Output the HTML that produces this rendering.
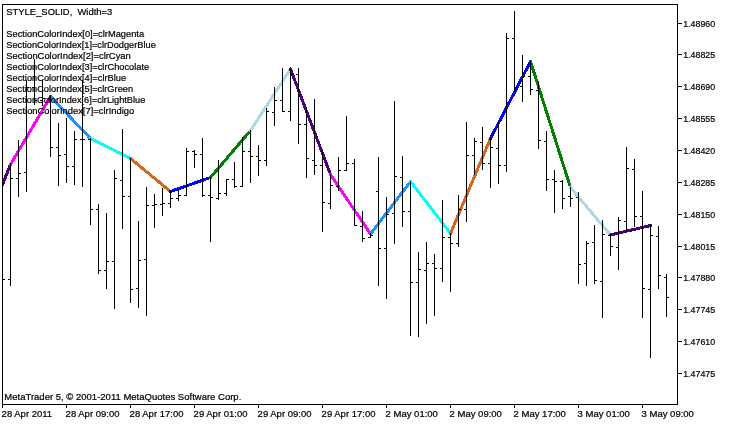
<!DOCTYPE html>
<html><head><meta charset="utf-8"><title>chart</title>
<style>
html,body{margin:0;padding:0;background:#fff;}
body{width:730px;height:425px;overflow:hidden;}
svg{display:block;}
text{font-family:"Liberation Sans",sans-serif;font-size:9.5px;fill:#000;stroke:#000;stroke-width:0.22px;}
</style></head><body>
<svg width="730" height="425" viewBox="0 0 730 425">
<rect x="0" y="0" width="730" height="425" fill="#fff"/>
<defs><clipPath id="cp"><rect x="3" y="5" width="674" height="399"/></clipPath><filter id="na" x="0" y="0" width="730" height="425" filterUnits="userSpaceOnUse" color-interpolation-filters="sRGB"><feOffset dx="0" dy="0"/></filter></defs>
<g fill="none" stroke-width="3" stroke-linecap="round" shape-rendering="crispEdges" clip-path="url(#cp)">
<line x1="-29.5" y1="264.5" x2="10.5" y2="164.5" stroke="#4B0082"/>
<line x1="10.5" y1="164.5" x2="50.5" y2="96.5" stroke="#FF00FF"/>
<line x1="50.5" y1="96.5" x2="90.5" y2="138.5" stroke="#1E90FF"/>
<line x1="90.5" y1="138.5" x2="130.5" y2="158.5" stroke="#00FFFF"/>
<line x1="130.5" y1="158.5" x2="170.5" y2="191.5" stroke="#D2691E"/>
<line x1="170.5" y1="191.5" x2="210.5" y2="177.5" stroke="#0000FF"/>
<line x1="210.5" y1="177.5" x2="250.5" y2="130.5" stroke="#008000"/>
<line x1="250.5" y1="130.5" x2="290.5" y2="69.0" stroke="#ADD8E6"/>
<line x1="290.5" y1="69.0" x2="330.5" y2="174.5" stroke="#4B0082"/>
<line x1="330.5" y1="174.5" x2="370.5" y2="234.0" stroke="#FF00FF"/>
<line x1="370.5" y1="234.0" x2="410.5" y2="181.5" stroke="#1E90FF"/>
<line x1="410.5" y1="181.5" x2="450.5" y2="233.5" stroke="#00FFFF"/>
<line x1="450.5" y1="233.5" x2="490.5" y2="138.5" stroke="#D2691E"/>
<line x1="490.5" y1="138.5" x2="530.5" y2="61.5" stroke="#0000FF"/>
<line x1="530.5" y1="61.5" x2="570.5" y2="187.5" stroke="#008000"/>
<line x1="570.5" y1="187.5" x2="610.5" y2="235.0" stroke="#ADD8E6"/>
<line x1="610.5" y1="235.0" x2="650.5" y2="225.5" stroke="#4B0082"/>
</g>
<g fill="#000" shape-rendering="crispEdges">
<rect x="3" y="279" width="2" height="1"/>
<rect x="10" y="163" width="1" height="123"/><rect x="8" y="279" width="2" height="1"/><rect x="11" y="178" width="2" height="1"/>
<rect x="18" y="140" width="1" height="57"/><rect x="16" y="178" width="2" height="1"/><rect x="19" y="173" width="2" height="1"/>
<rect x="26" y="80" width="1" height="112"/><rect x="24" y="172" width="2" height="1"/><rect x="27" y="87" width="2" height="1"/>
<rect x="34" y="59" width="1" height="46"/><rect x="32" y="87" width="2" height="1"/><rect x="35" y="100" width="2" height="1"/>
<rect x="42" y="80" width="1" height="26"/><rect x="40" y="100" width="2" height="1"/><rect x="43" y="98" width="2" height="1"/>
<rect x="50" y="95" width="1" height="62"/><rect x="48" y="98" width="2" height="1"/><rect x="51" y="147" width="2" height="1"/>
<rect x="58" y="123" width="1" height="63"/><rect x="56" y="147" width="2" height="1"/><rect x="59" y="155" width="2" height="1"/>
<rect x="66" y="118" width="1" height="65"/><rect x="64" y="154" width="2" height="1"/><rect x="67" y="166" width="2" height="1"/>
<rect x="74" y="131" width="1" height="54"/><rect x="72" y="166" width="2" height="1"/><rect x="75" y="139" width="2" height="1"/>
<rect x="82" y="80" width="1" height="107"/><rect x="80" y="139" width="2" height="1"/><rect x="83" y="139" width="2" height="1"/>
<rect x="90" y="138" width="1" height="87"/><rect x="88" y="139" width="2" height="1"/><rect x="91" y="209" width="2" height="1"/>
<rect x="98" y="204" width="1" height="70"/><rect x="96" y="209" width="2" height="1"/><rect x="99" y="270" width="2" height="1"/>
<rect x="106" y="213" width="1" height="76"/><rect x="104" y="270" width="2" height="1"/><rect x="107" y="261" width="2" height="1"/>
<rect x="114" y="170" width="1" height="139"/><rect x="112" y="261" width="2" height="1"/><rect x="115" y="178" width="2" height="1"/>
<rect x="122" y="129" width="1" height="100"/><rect x="120" y="180" width="2" height="1"/><rect x="123" y="196" width="2" height="1"/>
<rect x="130" y="158" width="1" height="145"/><rect x="128" y="196" width="2" height="1"/><rect x="131" y="289" width="2" height="1"/>
<rect x="138" y="221" width="1" height="87"/><rect x="136" y="288" width="2" height="1"/><rect x="139" y="260" width="2" height="1"/>
<rect x="146" y="187" width="1" height="129"/><rect x="144" y="259" width="2" height="1"/><rect x="147" y="205" width="2" height="1"/>
<rect x="154" y="194" width="1" height="34"/><rect x="152" y="205" width="2" height="1"/><rect x="155" y="204" width="2" height="1"/>
<rect x="162" y="188" width="1" height="28"/><rect x="160" y="204" width="2" height="1"/><rect x="163" y="203" width="2" height="1"/>
<rect x="170" y="191" width="1" height="17"/><rect x="168" y="203" width="2" height="1"/><rect x="171" y="198" width="2" height="1"/>
<rect x="178" y="189" width="1" height="12"/><rect x="176" y="198" width="2" height="1"/><rect x="179" y="195" width="2" height="1"/>
<rect x="186" y="148" width="1" height="48"/><rect x="184" y="195" width="2" height="1"/><rect x="187" y="151" width="2" height="1"/>
<rect x="194" y="150" width="1" height="18"/><rect x="192" y="151" width="2" height="1"/><rect x="195" y="154" width="2" height="1"/>
<rect x="202" y="138" width="1" height="59"/><rect x="200" y="154" width="2" height="1"/><rect x="203" y="195" width="2" height="1"/>
<rect x="210" y="177" width="1" height="65"/><rect x="208" y="195" width="2" height="1"/><rect x="211" y="197" width="2" height="1"/>
<rect x="218" y="160" width="1" height="40"/><rect x="216" y="198" width="2" height="1"/><rect x="219" y="193" width="2" height="1"/>
<rect x="226" y="179" width="1" height="17"/><rect x="224" y="193" width="2" height="1"/><rect x="227" y="179" width="2" height="1"/>
<rect x="234" y="162" width="1" height="26"/><rect x="232" y="179" width="2" height="1"/><rect x="235" y="186" width="2" height="1"/>
<rect x="242" y="137" width="1" height="50"/><rect x="240" y="186" width="2" height="1"/><rect x="243" y="151" width="2" height="1"/>
<rect x="250" y="130" width="1" height="53"/><rect x="248" y="151" width="2" height="1"/><rect x="251" y="156" width="2" height="1"/>
<rect x="258" y="145" width="1" height="31"/><rect x="256" y="156" width="2" height="1"/><rect x="259" y="160" width="2" height="1"/>
<rect x="266" y="108" width="1" height="58"/><rect x="264" y="160" width="2" height="1"/><rect x="267" y="111" width="2" height="1"/>
<rect x="274" y="87" width="1" height="39"/><rect x="272" y="112" width="2" height="1"/><rect x="275" y="100" width="2" height="1"/>
<rect x="282" y="68" width="1" height="44"/><rect x="280" y="100" width="2" height="1"/><rect x="283" y="111" width="2" height="1"/>
<rect x="290" y="69" width="1" height="52"/><rect x="288" y="111" width="2" height="1"/><rect x="291" y="74" width="2" height="1"/>
<rect x="298" y="68" width="1" height="76"/><rect x="296" y="74" width="2" height="1"/><rect x="299" y="124" width="2" height="1"/>
<rect x="306" y="107" width="1" height="71"/><rect x="304" y="124" width="2" height="1"/><rect x="307" y="158" width="2" height="1"/>
<rect x="314" y="99" width="1" height="76"/><rect x="312" y="160" width="2" height="1"/><rect x="315" y="165" width="2" height="1"/>
<rect x="322" y="150" width="1" height="82"/><rect x="320" y="165" width="2" height="1"/><rect x="323" y="202" width="2" height="1"/>
<rect x="330" y="174" width="1" height="35"/><rect x="328" y="203" width="2" height="1"/><rect x="331" y="185" width="2" height="1"/>
<rect x="338" y="157" width="1" height="34"/><rect x="336" y="186" width="2" height="1"/><rect x="339" y="170" width="2" height="1"/>
<rect x="346" y="116" width="1" height="55"/><rect x="344" y="170" width="2" height="1"/><rect x="347" y="163" width="2" height="1"/>
<rect x="354" y="159" width="1" height="67"/><rect x="352" y="163" width="2" height="1"/><rect x="355" y="225" width="2" height="1"/>
<rect x="362" y="211" width="1" height="31"/><rect x="360" y="226" width="2" height="1"/><rect x="363" y="238" width="2" height="1"/>
<rect x="370" y="233" width="1" height="5"/><rect x="368" y="237" width="2" height="1"/><rect x="371" y="235" width="2" height="1"/>
<rect x="378" y="157" width="1" height="129"/><rect x="376" y="191" width="2" height="1"/><rect x="379" y="248" width="2" height="1"/>
<rect x="386" y="197" width="1" height="102"/><rect x="384" y="248" width="2" height="1"/><rect x="387" y="214" width="2" height="1"/>
<rect x="394" y="101" width="1" height="143"/><rect x="392" y="213" width="2" height="1"/><rect x="395" y="176" width="2" height="1"/>
<rect x="402" y="156" width="1" height="71"/><rect x="400" y="177" width="2" height="1"/><rect x="403" y="211" width="2" height="1"/>
<rect x="410" y="181" width="1" height="155"/><rect x="408" y="211" width="2" height="1"/><rect x="411" y="282" width="2" height="1"/>
<rect x="418" y="252" width="1" height="85"/><rect x="416" y="282" width="2" height="1"/><rect x="419" y="269" width="2" height="1"/>
<rect x="426" y="242" width="1" height="82"/><rect x="424" y="270" width="2" height="1"/><rect x="427" y="263" width="2" height="1"/>
<rect x="434" y="254" width="1" height="62"/><rect x="432" y="263" width="2" height="1"/><rect x="435" y="268" width="2" height="1"/>
<rect x="442" y="200" width="1" height="82"/><rect x="440" y="268" width="2" height="1"/><rect x="443" y="237" width="2" height="1"/>
<rect x="450" y="233" width="1" height="59"/><rect x="448" y="237" width="2" height="1"/><rect x="451" y="243" width="2" height="1"/>
<rect x="458" y="195" width="1" height="52"/><rect x="456" y="243" width="2" height="1"/><rect x="459" y="209" width="2" height="1"/>
<rect x="466" y="122" width="1" height="100"/><rect x="464" y="209" width="2" height="1"/><rect x="467" y="155" width="2" height="1"/>
<rect x="474" y="138" width="1" height="37"/><rect x="472" y="155" width="2" height="1"/><rect x="475" y="141" width="2" height="1"/>
<rect x="482" y="127" width="1" height="43"/><rect x="480" y="142" width="2" height="1"/><rect x="483" y="163" width="2" height="1"/>
<rect x="490" y="138" width="1" height="50"/><rect x="488" y="163" width="2" height="1"/><rect x="491" y="147" width="2" height="1"/>
<rect x="498" y="121" width="1" height="63"/><rect x="496" y="148" width="2" height="1"/><rect x="499" y="165" width="2" height="1"/>
<rect x="506" y="33" width="1" height="139"/><rect x="504" y="165" width="2" height="1"/><rect x="507" y="38" width="2" height="1"/>
<rect x="514" y="11" width="1" height="80"/><rect x="512" y="38" width="2" height="1"/><rect x="515" y="87" width="2" height="1"/>
<rect x="522" y="55" width="1" height="47"/><rect x="520" y="86" width="2" height="1"/><rect x="523" y="76" width="2" height="1"/>
<rect x="530" y="61" width="1" height="34"/><rect x="528" y="76" width="2" height="1"/><rect x="531" y="89" width="2" height="1"/>
<rect x="538" y="81" width="1" height="68"/><rect x="536" y="90" width="2" height="1"/><rect x="539" y="140" width="2" height="1"/>
<rect x="546" y="131" width="1" height="60"/><rect x="544" y="141" width="2" height="1"/><rect x="547" y="179" width="2" height="1"/>
<rect x="554" y="170" width="1" height="43"/><rect x="552" y="179" width="2" height="1"/><rect x="555" y="181" width="2" height="1"/>
<rect x="562" y="180" width="1" height="29"/><rect x="560" y="181" width="2" height="1"/><rect x="563" y="198" width="2" height="1"/>
<rect x="570" y="187" width="1" height="20"/><rect x="568" y="196" width="2" height="1"/><rect x="571" y="198" width="2" height="1"/>
<rect x="578" y="192" width="1" height="92"/><rect x="576" y="197" width="2" height="1"/><rect x="579" y="264" width="2" height="1"/>
<rect x="586" y="241" width="1" height="45"/><rect x="584" y="263" width="2" height="1"/><rect x="587" y="243" width="2" height="1"/>
<rect x="594" y="225" width="1" height="59"/><rect x="592" y="242" width="2" height="1"/><rect x="595" y="280" width="2" height="1"/>
<rect x="602" y="220" width="1" height="98"/><rect x="600" y="281" width="2" height="1"/><rect x="603" y="234" width="2" height="1"/>
<rect x="610" y="234" width="1" height="22"/><rect x="608" y="235" width="2" height="1"/><rect x="611" y="246" width="2" height="1"/>
<rect x="618" y="217" width="1" height="53"/><rect x="616" y="247" width="2" height="1"/><rect x="619" y="220" width="2" height="1"/>
<rect x="626" y="147" width="1" height="85"/><rect x="624" y="221" width="2" height="1"/><rect x="627" y="168" width="2" height="1"/>
<rect x="634" y="159" width="1" height="68"/><rect x="632" y="169" width="2" height="1"/><rect x="635" y="216" width="2" height="1"/>
<rect x="642" y="191" width="1" height="127"/><rect x="640" y="216" width="2" height="1"/><rect x="643" y="288" width="2" height="1"/>
<rect x="650" y="224" width="1" height="134"/><rect x="648" y="289" width="2" height="1"/><rect x="651" y="235" width="2" height="1"/>
<rect x="658" y="226" width="1" height="63"/><rect x="656" y="236" width="2" height="1"/><rect x="659" y="275" width="2" height="1"/>
<rect x="666" y="274" width="1" height="43"/><rect x="664" y="277" width="2" height="1"/><rect x="667" y="297" width="2" height="1"/>
</g>
<g fill="#000" shape-rendering="crispEdges">
<rect x="2" y="4" width="676" height="1"/>
<rect x="2" y="4" width="1" height="401"/>
<rect x="677" y="4" width="1" height="401"/>
<rect x="2" y="404" width="676" height="1"/>
<rect x="678" y="23" width="4" height="1"/><rect x="678" y="54" width="4" height="1"/><rect x="678" y="86" width="4" height="1"/><rect x="678" y="118" width="4" height="1"/><rect x="678" y="150" width="4" height="1"/><rect x="678" y="182" width="4" height="1"/><rect x="678" y="214" width="4" height="1"/><rect x="678" y="246" width="4" height="1"/><rect x="678" y="277" width="4" height="1"/><rect x="678" y="309" width="4" height="1"/><rect x="678" y="341" width="4" height="1"/><rect x="678" y="373" width="4" height="1"/>
<rect x="2" y="405" width="1" height="3"/><rect x="66" y="405" width="1" height="3"/><rect x="130" y="405" width="1" height="3"/><rect x="194" y="405" width="1" height="3"/><rect x="258" y="405" width="1" height="3"/><rect x="322" y="405" width="1" height="3"/><rect x="386" y="405" width="1" height="3"/><rect x="450" y="405" width="1" height="3"/><rect x="514" y="405" width="1" height="3"/><rect x="578" y="405" width="1" height="3"/><rect x="642" y="405" width="1" height="3"/>
</g>
<g class="t" filter="url(#na)">
<text x="683.2" y="27" textLength="32" lengthAdjust="spacingAndGlyphs">1.48960</text>
<text x="683.2" y="58" textLength="32" lengthAdjust="spacingAndGlyphs">1.48825</text>
<text x="683.2" y="90" textLength="32" lengthAdjust="spacingAndGlyphs">1.48690</text>
<text x="683.2" y="122" textLength="32" lengthAdjust="spacingAndGlyphs">1.48555</text>
<text x="683.2" y="154" textLength="32" lengthAdjust="spacingAndGlyphs">1.48420</text>
<text x="683.2" y="186" textLength="32" lengthAdjust="spacingAndGlyphs">1.48285</text>
<text x="683.2" y="218" textLength="32" lengthAdjust="spacingAndGlyphs">1.48150</text>
<text x="683.2" y="250" textLength="32" lengthAdjust="spacingAndGlyphs">1.48015</text>
<text x="683.2" y="281" textLength="32" lengthAdjust="spacingAndGlyphs">1.47880</text>
<text x="683.2" y="313" textLength="32" lengthAdjust="spacingAndGlyphs">1.47745</text>
<text x="683.2" y="345" textLength="32" lengthAdjust="spacingAndGlyphs">1.47610</text>
<text x="683.2" y="377" textLength="32" lengthAdjust="spacingAndGlyphs">1.47475</text>
<text x="1.6" y="417">28 Apr 2011</text>
<text x="65.6" y="417">28 Apr 09:00</text>
<text x="129.6" y="417">28 Apr 17:00</text>
<text x="193.6" y="417">29 Apr 01:00</text>
<text x="257.6" y="417">29 Apr 09:00</text>
<text x="321.6" y="417">29 Apr 17:00</text>
<text x="385.6" y="417">2 May 01:00</text>
<text x="449.6" y="417">2 May 09:00</text>
<text x="513.6" y="417">2 May 17:00</text>
<text x="577.6" y="417">3 May 01:00</text>
<text x="641.6" y="417">3 May 09:00</text>
<text x="6.3" y="15" textLength="106.0" lengthAdjust="spacingAndGlyphs" xml:space="preserve">STYLE_SOLID,&#160; Width=3</text>
<text x="6.3" y="37" textLength="137.8" lengthAdjust="spacingAndGlyphs" xml:space="preserve">SectionColorIndex[0]=clrMagenta</text>
<text x="6.3" y="48" textLength="149.5" lengthAdjust="spacingAndGlyphs" xml:space="preserve">SectionColorIndex[1]=clrDodgerBlue</text>
<text x="6.3" y="59" textLength="124.5" lengthAdjust="spacingAndGlyphs" xml:space="preserve">SectionColorIndex[2]=clrCyan</text>
<text x="6.3" y="70" textLength="142.9" lengthAdjust="spacingAndGlyphs" xml:space="preserve">SectionColorIndex[3]=clrChocolate</text>
<text x="6.3" y="81" textLength="119.8" lengthAdjust="spacingAndGlyphs" xml:space="preserve">SectionColorIndex[4]=clrBlue</text>
<text x="6.3" y="92" textLength="126.8" lengthAdjust="spacingAndGlyphs" xml:space="preserve">SectionColorIndex[5]=clrGreen</text>
<text x="6.3" y="103" textLength="139.0" lengthAdjust="spacingAndGlyphs" xml:space="preserve">SectionColorIndex[6]=clrLightBlue</text>
<text x="6.3" y="114" textLength="127.9" lengthAdjust="spacingAndGlyphs" xml:space="preserve">SectionColorIndex[7]=clrIndigo</text>
<text x="4.3" y="400" textLength="237" lengthAdjust="spacingAndGlyphs">MetaTrader 5, © 2001-2011 MetaQuotes Software Corp.</text>
</g>
</svg>
</body></html>
